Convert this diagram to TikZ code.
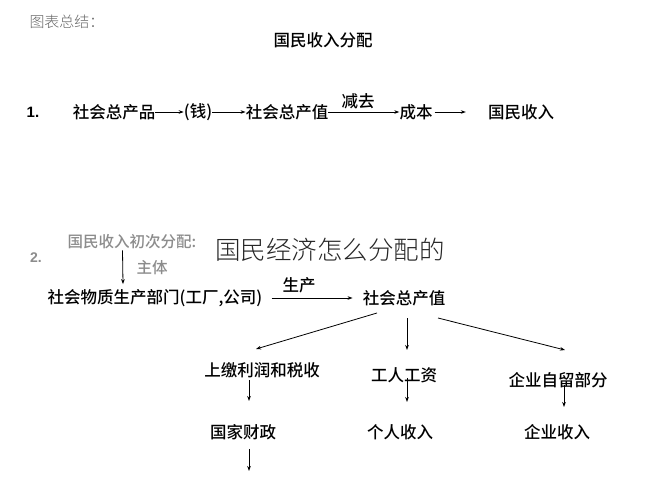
\documentclass[tikz,border=0pt]{standalone}
\usepackage{fontspec}
\setmainfont{Noto Sans CJK SC}[UprightFont=* Medium, BoldFont=* Bold]
\newfontfamily\cjklight{Noto Sans CJK SC}[UprightFont=* Light]
\newfontfamily\latinbold{Liberation Sans}
\usetikzlibrary{arrows.meta}
\tikzset{
  txt/.style={inner sep=0pt, font=\fontsize{16.5}{17}\selectfont},
  gtxt/.style={inner sep=0pt, text=black!45, font=\fontsize{15.5}{16}\selectfont},
  arr/.style={draw=black, line width=0.8pt, -{Stealth[length=5pt,width=3.6pt]}},
}
\begin{document}
\begin{tikzpicture}[x=1pt,y=-1pt]
\useasboundingbox[fill=white] (0,0) rectangle (657,490);
% header
\node[inner sep=0pt, text=black!60, font=\cjklight\fontsize{15}{15}\selectfont] (hd) at (67,22) {图表总结：};
\node[txt] (title) at (323,40) {国民收入分配};
% row 1
\node[inner sep=0pt, font=\latinbold\bfseries\fontsize{15}{15}\selectfont] (n1) at (33,112) {1.};
\node[txt] (p1) at (114,112) {社会总产品};
\node[txt] (qian) at (198,112) {(钱)};
\node[txt] (zz1) at (287,112) {社会总产值};
\node[txt] (cb) at (416,112) {成本};
\node[txt] (gm1) at (521,112) {国民收入};
\node[txt] (jq) at (358,101) {减去};
\draw[arr] (p1.east) -- (qian.west);
\draw[arr] (qian.east) -- (zz1.west);
\draw[arr] (zz1.east) -- (cb.west);
\draw[arr] ([xshift=2]cb.east) -- ([xshift=-22]gm1.west);
% row 2
\node[inner sep=0pt, text=black!45, font=\latinbold\bfseries\fontsize{14}{14}\selectfont] (n2) at (36,258) {2.};
\node[gtxt] (init) at (132,242) {国民收入初次分配:};
\node[gtxt] (zt) at (152,268) {主体};
\node[inner sep=0pt, text=black!85, font=\cjklight\fontsize{25.5}{26}\selectfont] (wm) at (330,250) {国民经济怎么分配的};
\node[txt] (sm) at (155,298) {社会物质生产部门(工厂,公司)};
\node[txt] (sc) at (299,285) {生产};
\node[txt] (zz2) at (404,298) {社会总产值};
\draw[arr] ([xshift=-9.5,yshift=-1]init.south) -- ([xshift=-32,yshift=5]sm.north);
\draw[arr] ([xshift=9]sm.east) -- ([xshift=-10]zz2.west);
% tree
\node[txt] (sj) at (262,370) {上缴利润和税收};
\node[txt] (gr) at (404,375) {工人工资};
\node[txt] (qy) at (558,380) {企业自留部分};
\node[txt] (gj) at (243,432) {国家财政};
\node[txt] (gs) at (400,432) {个人收入};
\node[txt] (qs) at (557,432) {企业收入};
\coordinate (l0) at (377,313);
\coordinate (l1) at (256,349);
\coordinate (m0) at (407,318);
\coordinate (m1) at (407,350);
\coordinate (r0) at (438,318);
\coordinate (r1) at (565,350);
\coordinate (sj1) at (249,401);
\coordinate (gr1) at (407,402);
\coordinate (qy1) at (564,407);
\coordinate (g1) at (249,471);
\draw[arr] (l0) -- (l1);
\draw[arr] (m0) -- (m1);
\draw[arr] (r0) -- (r1);
\draw[arr] ([yshift=-2]sj.south -| sj1) -- (sj1);
\draw[arr] ([yshift=5]gr.south -| gr1) -- (gr1);
\draw[arr] ([yshift=3]qy.south -| qy1) -- (qy1);
\draw[arr] ([yshift=-9]gj.south -| g1) -- (g1);
\end{tikzpicture}
\end{document}
